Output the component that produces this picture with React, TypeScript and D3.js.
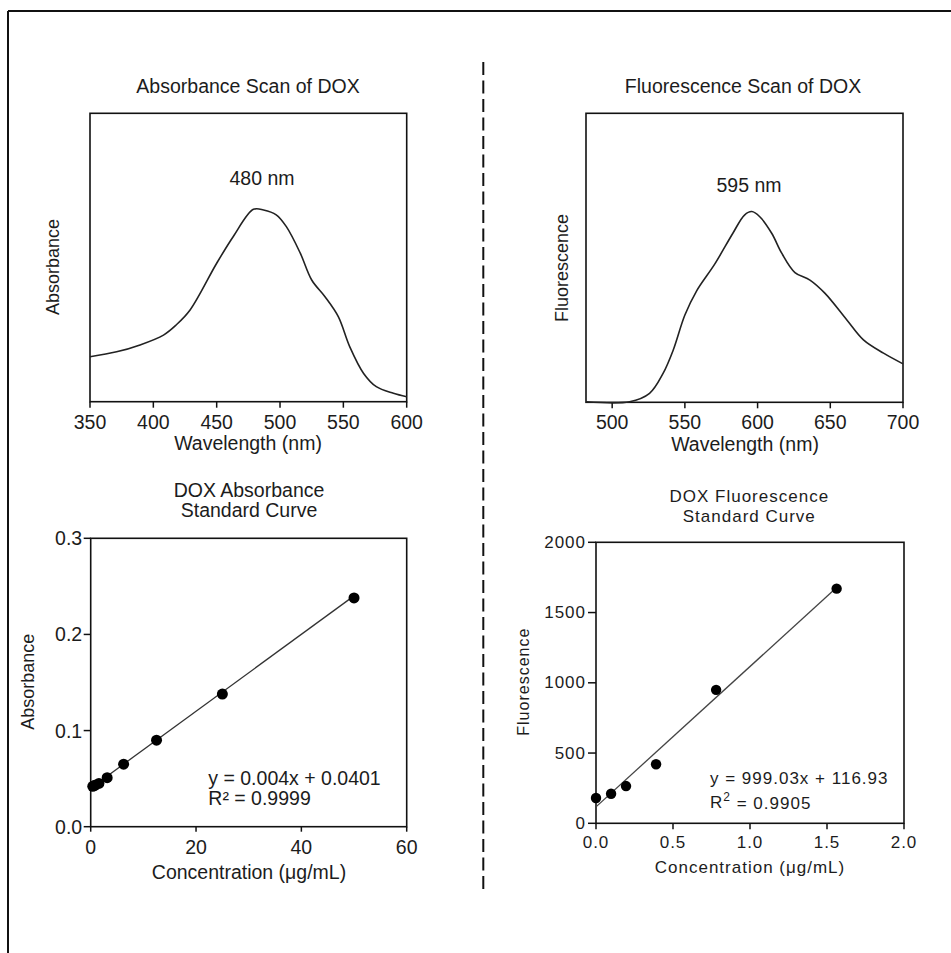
import React from "react";
import * as d3 from "d3";

// ---- Data ----
const absScanWavelength = [350, 371, 389.5, 408, 418, 429, 450, 463, 479, 487, 497, 505, 516, 525, 535.5, 546, 555, 566, 576, 589.5, 600];
const absScanIntensity = [0.156, 0.173, 0.197, 0.231, 0.266, 0.318, 0.48, 0.572, 0.667, 0.665, 0.648, 0.607, 0.515, 0.422, 0.364, 0.295, 0.191, 0.098, 0.052, 0.029, 0.017];

const flScanWavelength = [482, 512, 525.7, 535, 542, 550, 558, 570.5, 583, 591, 596, 601.5, 609.7, 616.6, 625.7, 636, 646.4, 661.4, 672.8, 686.6, 700];
const flScanIntensity = [0.002, 0.002, 0.031, 0.1, 0.181, 0.302, 0.385, 0.478, 0.585, 0.648, 0.66, 0.642, 0.585, 0.516, 0.449, 0.423, 0.377, 0.285, 0.216, 0.17, 0.133];

const absConc = [0.39, 0.78, 1.56, 3.125, 6.25, 12.5, 25, 50];
const absValues = [0.042, 0.043, 0.045, 0.051, 0.065, 0.09, 0.138, 0.238];
const absSlope = 0.004;
const absIntercept = 0.0401;

const flConc = [0, 0.098, 0.195, 0.39, 0.78, 1.5625];
const flValues = [180, 210, 265, 420, 950, 1670];
const flSlope = 999.03;
const flIntercept = 116.93;

const absScanTicks = [350, 400, 450, 500, 550, 600];
const flScanTicks = [500, 550, 600, 650, 700];
const absStdXTicks = [0, 20, 40, 60];
const absStdYTicks = [0, 0.1, 0.2, 0.3];
const flStdXTicks = [0, 0.5, 1, 1.5, 2];
const flStdYTicks = [0, 500, 1000, 1500, 2000];

const FONT = "'Liberation Sans', Arial, Helvetica, sans-serif";
const INK = "#1c1c1c";

export default function App() {
  // Scales
  const xTL = d3.scaleLinear().domain([350, 600]).range([90, 406.7]);
  const yTL = d3.scaleLinear().domain([0, 1]).range([401.7, 113.3]);
  const xTR = d3.scaleLinear().domain([482, 700]).range([586, 903]);
  const yTR = d3.scaleLinear().domain([0, 1]).range([402.3, 113.3]);
  const xBL = d3.scaleLinear().domain([0, 60]).range([90.7, 406.7]);
  const yBL = d3.scaleLinear().domain([0, 0.3]).range([826.7, 538.3]);
  const xBR = d3.scaleLinear().domain([0, 2]).range([596, 904]);
  const yBR = d3.scaleLinear().domain([0, 2000]).range([823.3, 542.3]);

  const absLine = d3
    .line<number>()
    .x((d, i) => xTL(absScanWavelength[i]))
    .y((d) => yTL(d))
    .curve(d3.curveCatmullRom.alpha(0.5));
  const flLine = d3
    .line<number>()
    .x((d, i) => xTR(flScanWavelength[i]))
    .y((d) => yTR(d))
    .curve(d3.curveCatmullRom.alpha(0.5));

  const frame = (x: d3.ScaleLinear<number, number>, y: d3.ScaleLinear<number, number>) => {
    const [x0, x1] = x.range();
    const [y0, y1] = y.range();
    return (
      <rect x={x0} y={y1} width={x1 - x0} height={y0 - y1} fill="none" stroke="#111" strokeWidth={1.6} />
    );
  };

  const fmt1 = d3.format(".1f");

  return (
    <svg width={951} height={953} style={{ position: "absolute", left: 0, top: 0, display: "block", background: "#fff" }} fontFamily={FONT}>
      <rect x={0} y={0} width={951} height={953} fill="#fff" />
      {/* outer border */}
      <line x1={8} y1={11} x2={951} y2={11} stroke="#111" strokeWidth={2} />
      <line x1={8} y1={11} x2={8} y2={953} stroke="#111" strokeWidth={2} />
      {/* dashed divider */}
      <line x1={483.3} y1={62} x2={483.3} y2={889} stroke="#111" strokeWidth={2} strokeDasharray="13 5.5" />

      {/* ---------- Top-left: Absorbance scan ---------- */}
      <g fill={INK}>
        <text x={248} y={86} fontSize={19.5} textAnchor="middle" dominantBaseline="central">Absorbance Scan of DOX</text>
        <text x={262} y={178} fontSize={19.5} textAnchor="middle" dominantBaseline="central">480 nm</text>
        <text transform={`translate(53,267) rotate(-90)`} fontSize={18} textAnchor="middle" dominantBaseline="central">Absorbance</text>
        <text x={248} y={443} fontSize={19.5} textAnchor="middle" dominantBaseline="central">Wavelength (nm)</text>
        {absScanTicks.map((t) => (
          <g key={t}>
            <line x1={xTL(t)} x2={xTL(t)} y1={yTL(0)} y2={yTL(0) + 6} stroke="#111" strokeWidth={1.5} />
            <text x={xTL(t)} y={421.7} fontSize={19.5} textAnchor="middle" dominantBaseline="central">{t}</text>
          </g>
        ))}
      </g>
      {frame(xTL, yTL)}
      <path d={absLine(absScanIntensity) || ""} fill="none" stroke="#222" strokeWidth={1.6} />

      {/* ---------- Top-right: Fluorescence scan ---------- */}
      <g fill={INK}>
        <text x={743} y={86} fontSize={19.5} textAnchor="middle" dominantBaseline="central">Fluorescence Scan of DOX</text>
        <text x={749} y={185} fontSize={19.5} textAnchor="middle" dominantBaseline="central">595 nm</text>
        <text transform={`translate(561.7,268) rotate(-90)`} fontSize={18} textAnchor="middle" dominantBaseline="central">Fluorescence</text>
        <text x={745} y={444} fontSize={19.5} textAnchor="middle" dominantBaseline="central">Wavelength (nm)</text>
        {flScanTicks.map((t) => (
          <g key={t}>
            <line x1={xTR(t)} x2={xTR(t)} y1={yTR(0)} y2={yTR(0) + 6} stroke="#111" strokeWidth={1.5} />
            <text x={xTR(t)} y={422} fontSize={19.5} textAnchor="middle" dominantBaseline="central">{t}</text>
          </g>
        ))}
      </g>
      {frame(xTR, yTR)}
      <path d={flLine(flScanIntensity) || ""} fill="none" stroke="#222" strokeWidth={1.6} />

      {/* ---------- Bottom-left: Absorbance standard curve ---------- */}
      <g fill={INK}>
        <text x={249} y={490} fontSize={19.5} textAnchor="middle" dominantBaseline="central">DOX Absorbance</text>
        <text x={249} y={510} fontSize={19.5} textAnchor="middle" dominantBaseline="central">Standard Curve</text>
        <text transform={`translate(28.3,681.7) rotate(-90)`} fontSize={18} textAnchor="middle" dominantBaseline="central">Absorbance</text>
        <text x={249} y={871.7} fontSize={19.5} textAnchor="middle" dominantBaseline="central">Concentration (μg/mL)</text>
        {absStdXTicks.map((t) => (
          <g key={"x" + t}>
            <line x1={xBL(t)} x2={xBL(t)} y1={yBL(0)} y2={yBL(0) + 5} stroke="#111" strokeWidth={1.5} />
            <text x={xBL(t)} y={846.7} fontSize={19.5} textAnchor="middle" dominantBaseline="central">{t}</text>
          </g>
        ))}
        {absStdYTicks.map((t) => (
          <g key={"y" + t}>
            <line x1={xBL(0) - 7} x2={xBL(0)} y1={yBL(t)} y2={yBL(t)} stroke="#111" strokeWidth={1.5} />
            <text x={xBL(0) - 8.5} y={yBL(t)} fontSize={19.5} textAnchor="end" dominantBaseline="central">{fmt1(t)}</text>
          </g>
        ))}
        <text x={208.3} y={778} fontSize={19.5} dominantBaseline="central">y = 0.004x + 0.0401</text>
        <text x={208.3} y={798} fontSize={19.5} dominantBaseline="central">R² = 0.9999</text>
      </g>
      {frame(xBL, yBL)}
      <line
        x1={xBL(0)}
        y1={yBL(absIntercept)}
        x2={xBL(absConc[absConc.length - 1])}
        y2={yBL(absSlope * absConc[absConc.length - 1] + absIntercept)}
        stroke="#333"
        strokeWidth={1.3}
      />
      {absConc.map((c, i) => (
        <circle key={i} cx={xBL(c)} cy={yBL(absValues[i])} r={5.5} fill="#000" />
      ))}

      {/* ---------- Bottom-right: Fluorescence standard curve ---------- */}
      <g fill={INK} letterSpacing={1}>
        <text x={749.3} y={496.7} fontSize={17} textAnchor="middle" dominantBaseline="central">DOX Fluorescence</text>
        <text x={749.3} y={516} fontSize={17} textAnchor="middle" dominantBaseline="central">Standard Curve</text>
        <text transform={`translate(523.3,681.7) rotate(-90)`} fontSize={16} textAnchor="middle" dominantBaseline="central">Fluorescence</text>
        <text x={750} y={867.3} fontSize={17} textAnchor="middle" dominantBaseline="central">Concentration (μg/mL)</text>
        {flStdXTicks.map((t) => (
          <g key={"x" + t}>
            <line x1={xBR(t)} x2={xBR(t)} y1={yBR(0)} y2={yBR(0) + 6} stroke="#111" strokeWidth={1.5} />
            <text x={xBR(t)} y={842.7} fontSize={17} textAnchor="middle" dominantBaseline="central">{fmt1(t)}</text>
          </g>
        ))}
        {flStdYTicks.map((t) => (
          <g key={"y" + t}>
            <line x1={xBR(0) - 8} x2={xBR(0)} y1={yBR(t)} y2={yBR(t)} stroke="#111" strokeWidth={1.5} />
            <text x={xBR(0) - 10} y={yBR(t)} fontSize={17} textAnchor="end" dominantBaseline="central">{t}</text>
          </g>
        ))}
        <text x={710} y={778.3} fontSize={17} dominantBaseline="central">y = 999.03x + 116.93</text>
        <text x={710} y={802.7} fontSize={17} dominantBaseline="central">
          R<tspan dy={-6} fontSize={12}>2</tspan>
          <tspan dy={6}> = 0.9905</tspan>
        </text>
      </g>
      {frame(xBR, yBR)}
      <line
        x1={xBR(0)}
        y1={yBR(flIntercept)}
        x2={xBR(flConc[flConc.length - 1])}
        y2={yBR(flSlope * flConc[flConc.length - 1] + flIntercept)}
        stroke="#444"
        strokeWidth={1.3}
      />
      {flConc.map((c, i) => (
        <circle key={i} cx={xBR(c)} cy={yBR(flValues[i])} r={5.2} fill="#000" />
      ))}
    </svg>
  );
}
